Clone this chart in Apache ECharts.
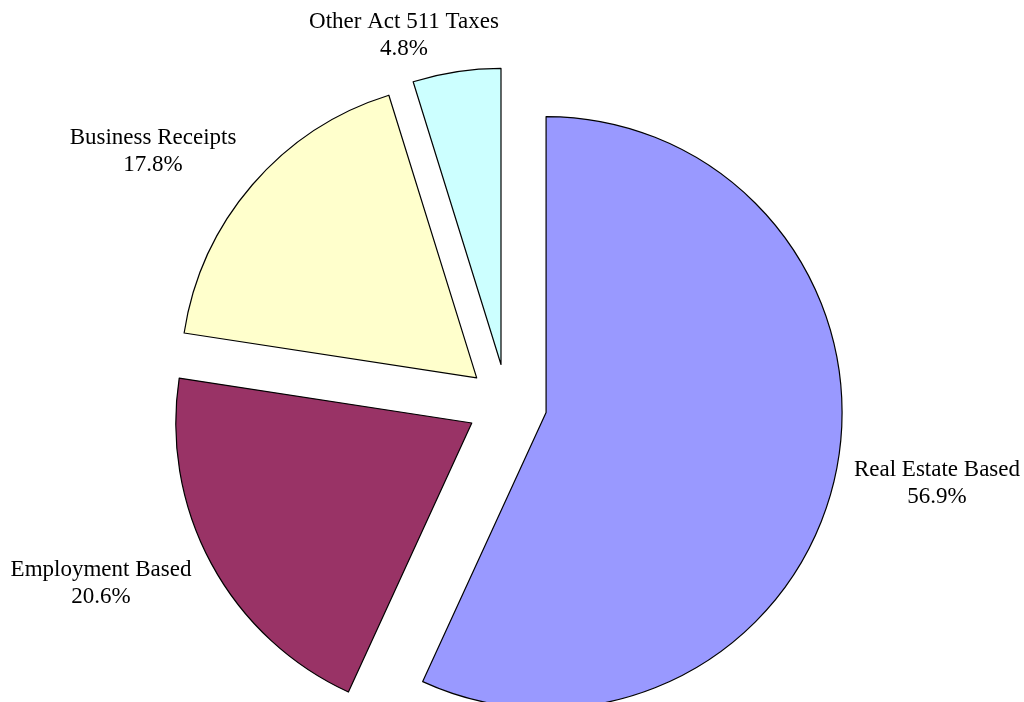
<!DOCTYPE html>
<html>
<head>
<meta charset="utf-8">
<script src="https://cdn.jsdelivr.net/npm/echarts@6/dist/echarts.min.js"></script>
<style>
html,body{margin:0;padding:0;background:#fff;}
#chart{width:1024px;height:702px;}
</style>
</head>
<body>
<div id="chart"></div>
<script>
const categories = ['Real Estate Based', 'Employment Based', 'Business Receipts', 'Other Act 511 Taxes'];
const shares = [56.9, 20.6, 17.8, 4.8];
const colors = ['#9999FF', '#993366', '#FFFFCC', '#CCFFFF'];

const labelSpots = [[937, 483], [101, 583], [153, 151], [404, 35]];

const chart = echarts.init(document.getElementById('chart'));
chart.setOption({
  animation: false,
  backgroundColor: '#ffffff',
  graphic: categories.map((c, i) => ({
    type: 'text',
    x: labelSpots[i][0],
    y: labelSpots[i][1],
    silent: true,
    style: {
      text: c + '\n' + shares[i].toFixed(1) + '%',
      fontFamily: 'Liberation Serif, Times New Roman, serif',
      fontSize: 23,
      lineHeight: 27,
      fill: '#000000',
      align: 'center',
      verticalAlign: 'middle',
      textAlign: 'center',
      textVerticalAlign: 'middle'
    }
  })),
  series: [{
    type: 'pie',
    center: [507, 404],
    radius: [0, 296],
    startAngle: 90,
    clockwise: true,
    selectedMode: 'multiple',
    selectedOffset: 40,
    itemStyle: { borderColor: '#000000', borderWidth: 1.2 },
    emphasis: { disabled: true },
    label: { show: false },
    labelLine: { show: false },
    data: categories.map((c, i) => ({
      name: c,
      value: shares[i],
      selected: true,
      itemStyle: { color: colors[i] }
    }))
  }]
});
</script>
</body>
</html>
